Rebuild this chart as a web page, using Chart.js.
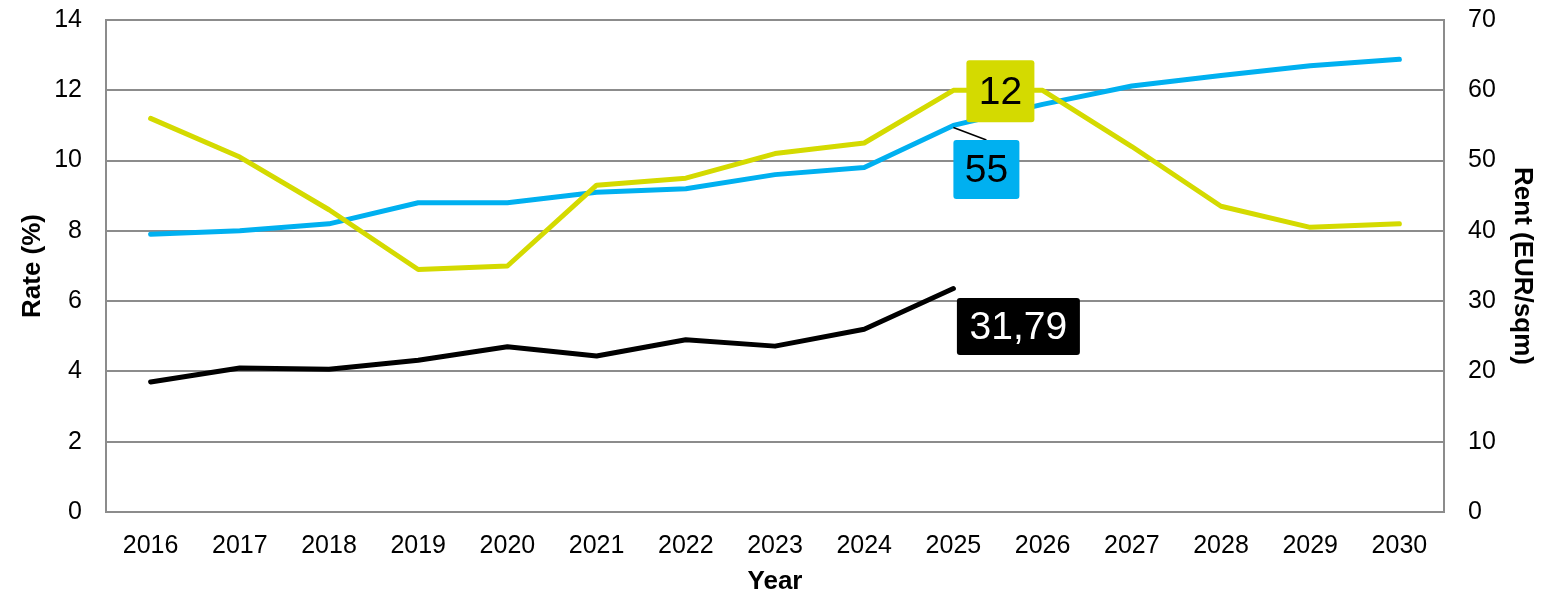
<!DOCTYPE html>
<html>
<head>
<meta charset="utf-8">
<script src="https://cdn.jsdelivr.net/npm/chart.js@4/dist/chart.umd.min.js"></script>
<style>
  html, body { margin: 0; padding: 0; background: #fff; }
  #wrap { width: 1560px; height: 595px; }
</style>
</head>
<body>
<div id="wrap"><canvas id="myChart"></canvas></div>
<script>
// data
const years = ['2016', '2017', '2018', '2019', '2020', '2021', '2022', '2023', '2024', '2025', '2026', '2027', '2028', '2029', '2030'];
const rate = [11.2, 10.1, 8.6, 6.9, 7.0, 9.3, 9.5, 10.2, 10.5, 12.0, 12.0, 10.4, 8.7, 8.1, 8.2];
const rentBlue = [39.5, 40.0, 41.0, 44.0, 44.0, 45.5, 46.0, 48.0, 49.0, 55.0, 58.0, 60.6, 62.1, 63.5, 64.4];
const rentBlack = [18.5, 20.5, 20.3, 21.6, 23.5, 22.2, 24.5, 23.6, 26.0, 31.79, null, null, null, null, null];
const rateTicks = [0, 2, 4, 6, 8, 10, 12, 14];
const rentTicks = [0, 10, 20, 30, 40, 50, 60, 70];

const YELLOW = '#d4da00';
const BLUE = '#00b0f0';
const GRID = '#8c8c8c';
const FONT = '"Liberation Sans", Arial, sans-serif';

// value callouts next to the 2025 point of each line
const callouts = [
  { ds: 0, idx: 9, bg: YELLOW, color: '#000', dx: 47, dy: 1, w: 68, h: 62 },
  { ds: 1, idx: 9, bg: BLUE, color: '#000', dx: 33, dy: 44, w: 66, h: 59, leader: true },
  { ds: 2, idx: 9, bg: '#000', color: '#fff', dx: 65, dy: 38, w: 123, h: 57 }
];

const calloutPlugin = {
  id: 'callouts',
  afterDatasetsDraw(chart) {
    const c = chart.ctx;
    callouts.forEach(o => {
      const pt = chart.getDatasetMeta(o.ds).data[o.idx];
      const val = chart.data.datasets[o.ds].data[o.idx];
      const txt = String(val).replace('.', ',');
      const cx = pt.x + o.dx, cy = pt.y + o.dy;
      c.save();
      if (o.leader) {
        c.strokeStyle = '#000';
        c.lineWidth = 1.5;
        c.beginPath();
        c.moveTo(pt.x, pt.y + 2);
        c.lineTo(cx, cy - o.h / 2);
        c.stroke();
      }
      c.fillStyle = o.bg;
      c.beginPath();
      if (c.roundRect) c.roundRect(cx - o.w / 2, cy - o.h / 2, o.w, o.h, 3);
      else c.rect(cx - o.w / 2, cy - o.h / 2, o.w, o.h);
      c.fill();
      c.fillStyle = o.color;
      c.font = '39px ' + FONT;
      c.textAlign = 'center';
      c.textBaseline = 'middle';
      c.fillText(txt, cx, cy + 2);
      c.restore();
    });
  }
};

// keep the plot box fixed: no extra room for half tick labels
function fixVertical(width) {
  return s => { s.width = width; s.paddingTop = 0; s.paddingBottom = 0; };
}

const ctx = document.getElementById('myChart');

new Chart(ctx, {
  type: 'line',
  data: {
    labels: years,
    datasets: [
      { label: 'Rate', data: rate, yAxisID: 'y', borderColor: YELLOW, borderWidth: 5 },
      { label: 'Rent', data: rentBlue, yAxisID: 'y1', borderColor: BLUE, borderWidth: 5 },
      { label: 'Rent (actual)', data: rentBlack, yAxisID: 'y1', borderColor: '#000', borderWidth: 5 }
    ]
  },
  options: {
    responsive: true,
    maintainAspectRatio: false,
    animation: false,
    events: [],
    layout: { padding: { top: 20, left: 0, right: 0, bottom: 0 } },
    elements: {
      point: { radius: 0 },
      line: { tension: 0, borderCapStyle: 'round', borderJoinStyle: 'round', fill: false }
    },
    plugins: { legend: { display: false }, tooltip: { enabled: false } },
    scales: {
      x: {
        offset: true,
        grid: { display: false, drawTicks: false },
        border: { display: true, color: GRID, width: 2 },
        ticks: { color: '#000', font: { family: FONT, size: 25 }, padding: 19, maxRotation: 0 },
        title: { display: true, text: 'Year', color: '#000', font: { family: FONT, size: 26, weight: 'bold', lineHeight: 1 }, padding: { top: 0, bottom: 0 } },
        afterFit(s) { s.height = 83; s.paddingLeft = 0; s.paddingRight = 0; }
      },
      y: {
        position: 'left',
        min: 0, max: 14,
        afterBuildTicks(s) { s.ticks = rateTicks.map(v => ({ value: v })); },
        grid: { color: GRID, lineWidth: 2, drawTicks: false },
        border: { display: true, color: GRID, width: 2 },
        ticks: { color: '#000', font: { family: FONT, size: 25 }, padding: 24 },
        title: { display: true, text: 'Rate (%)', color: '#000', font: { family: FONT, size: 26, weight: 'bold' }, padding: { top: 17, bottom: 0 } },
        afterFit: fixVertical(106)
      },
      y1: {
        position: 'right',
        min: 0, max: 70,
        afterBuildTicks(s) { s.ticks = rentTicks.map(v => ({ value: v })); },
        grid: { display: false, drawTicks: false },
        border: { display: true, color: GRID, width: 2 },
        ticks: { color: '#000', font: { family: FONT, size: 25 }, padding: 24 },
        title: { display: true, text: 'Rent (EUR/sqm)', color: '#000', font: { family: FONT, size: 26, weight: 'bold' }, padding: { top: 22, bottom: 0 } },
        afterFit: fixVertical(116)
      }
    }
  },
  plugins: [calloutPlugin]
});
</script>
</body>
</html>
